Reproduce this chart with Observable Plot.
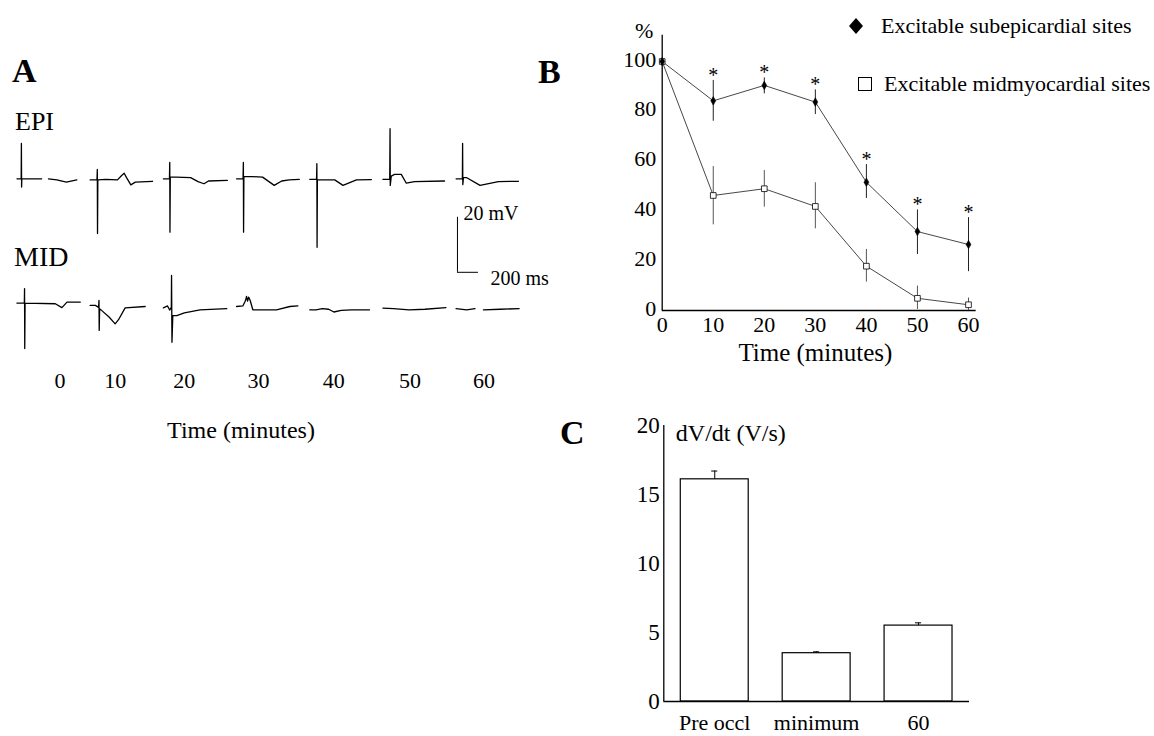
<!DOCTYPE html>
<html>
<head>
<meta charset="utf-8">
<script src="https://cdn.jsdelivr.net/npm/d3@7"></script>
<script src="https://cdn.jsdelivr.net/npm/@observablehq/plot@0.6"></script>
<style>
  body { margin: 0; background: #fff; }
  #fig { position: relative; width: 1154px; height: 736px; overflow: hidden; background: #fff;
         font-family: "Liberation Serif", "DejaVu Serif", serif; color: #000; }
  .lbl { position: absolute; white-space: nowrap; line-height: 1; }
  .plot { position: absolute; }
</style>
</head>
<body>
<div id="fig"></div>
<script>
// ---------------- DATA ----------------
// Panel B: % excitable sites vs time (minutes)
const minutes    = [0, 10, 20, 30, 40, 50, 60];
const epiPct     = [100, 84.2, 90.4, 83.7, 51.5, 31.7, 26.5];
const epiErrHi   = [100, 92.4, 93.4, 88.6, 58.6, 40.4, 37.3];
const epiErrLo   = [100, 76.0, 87.0, 78.7, 45.0, 22.5, 15.6];
const midPct     = [100, 46.2, 48.9, 41.8, 17.8, 4.9, 2.3];
const midErrHi   = [100, 57.8, 56.2, 51.3, 24.5, 9.8, 5.0];
const midErrLo   = [100, 34.4, 41.5, 32.8, 11.4, 0.4, 0];
const significant = [false, true, true, true, true, true, true];
const bYTicks = [0, 20, 40, 60, 80, 100];

// Panel C: dV/dt (V/s)
const dvdtGroups = ["Pre occl", "minimum", "60"];
const dvdtMean   = [16.1, 3.5, 5.5];
const dvdtErr    = [0.6, 0.1, 0.2];
const cYTicks = [0, 5, 10, 15, 20];

// Panel A: electrogram snippets, [ms from snippet start, mV from baseline]
const traceTimes = ["0", "10", "20", "30", "40", "50", "60"];
const epiTraces = [
  [[0,0],[40,0],[42,12.9],[44,-3],[46,0],[235,0],[240,null],[300,0],[380,-0.4],[470,-1.2],[570,-0.4]],
  [[0,-0.4],[65,-0.4],[68,3.4],[70,-19.9],[73,-0.4],[150,-0.2],[260,-0.4],[300,1.2],[324,2.0],[345,0.5],[387,-2.2],[430,-1.2],[594,-0.9]],
  [[0,0],[58,0],[61,6],[63,-19.4],[66,0.6],[120,0.6],[260,0.4],[330,-1.0],[387,-1.8],[430,-0.8],[609,-0.6]],
  [[0,0],[62,0],[65,6],[67,-19.4],[70,0.8],[150,0.8],[248,0.6],[359,-2.4],[430,-0.8],[502,-0.4],[597,-0.2]],
  [[0,-0.2],[65,-0.2],[68,5.5],[70,-24.9],[73,-0.4],[238,-0.4],[317,-2.4],[445,-0.4],[587,-0.3]],
  [[0,-0.2],[65,-0.2],[68,18.2],[70,-2.4],[80,1.0],[111,1.6],[175,1.6],[223,-1.6],[300,-1.0],[587,-0.8]],
  [[0,0],[60,0],[62,12.9],[64,-2.1],[70,0.4],[102,0.4],[228,-2.4],[403,-1.0],[593,-0.9]]
];
const midTraces = [
  [[0,0],[70,0],[72,5.3],[74,-16.5],[77,0],[365,-0.2],[428,-1.6],[476,0.4],[603,0.4]],
  [[0,-0.8],[50,-0.8],[80,-1.5],[84,1.0],[86,-9.9],[90,-2],[111,-2.7],[180,-5],[238,-7.5],[270,-6],[333,-1.7],[524,-1.2]],
  [[0,-1.7],[40,-1.0],[60,-2.5],[76,-1.5],[78,10.1],[82,-14.2],[90,-4.5],[128,-4.5],[200,-3.5],[349,-2.4],[604,-2.0]],
  [[0,-1.2],[60,-1.0],[80,0.5],[90,1.5],[95,2.5],[105,0.8],[115,2.2],[130,1.0],[155,-2.4],[381,-2.4],[508,-1.2],[584,-1.0]],
  [[0,-2.4],[60,-2.4],[120,-2.0],[180,-2.2],[230,-3.2],[300,-2.6],[400,-2.4],[570,-2.4]],
  [[0,-1.8],[100,-2.0],[250,-2.4],[400,-2.2],[600,-1.6]],
  [[0,-2.0],[100,-2.4],[180,-2.0],[200,null],[260,-2.4],[420,-2.2],[600,-2.0]]
];
const scaleBarMv = 20;
const scaleBarMs = 200;

// ---------------- LAYOUT ----------------
const fig = document.getElementById("fig");
const FONT = "'Liberation Serif', 'DejaVu Serif', serif";

function label(text, {x, y, size = 22, weight = "normal", anchor = "start"}) {
  const d = document.createElement("div");
  d.className = "lbl";
  d.textContent = text;
  d.style.fontSize = size + "px";
  d.style.fontWeight = weight;
  d.style.top = (y - 0.8375 * size) + "px";   // y = baseline
  d.style.left = x + "px";
  if (anchor === "middle") d.style.transform = "translateX(-50%)";
  fig.appendChild(d);
}
function place(svg, left, top) {
  svg.classList.add("plot");
  svg.style.left = left + "px";
  svg.style.top = top + "px";
  fig.appendChild(svg);
}

// ---------------- PANEL A ----------------
const A_W = 556, A_H = 400;
const PX_PER_MS = 0.105, PX_PER_MV = 2.75;
const EPI_BASE_PX = 178.3, MID_BASE_PX = 302.7;
const FIRST_MS = 157, SLOT_MS = 697;
const MID_OFFSET = -(MID_BASE_PX - EPI_BASE_PX) / PX_PER_MV;
const labelNudgePx = [19, 1, -3, -2, 0, 3, 4];

const traceRows = [];
[["EPI", epiTraces, 0], ["MID", midTraces, MID_OFFSET]].forEach(([ch, snippets, off]) => {
  snippets.forEach((pts, i) => {
    pts.forEach(([t, v]) => traceRows.push({
      t: FIRST_MS + i * SLOT_MS + t,
      v: v == null ? NaN : v + off,
      key: ch + i
    }));
  });
});
const barX = FIRST_MS + 6 * SLOT_MS + 13;   // scale bar sits under the last snippet
const barTop = -14;
const scaleBar = [{x: barX, x2: barX + scaleBarMs, y1: barTop, y2: barTop - scaleBarMv}];

const plotA = Plot.plot({
  width: A_W, height: A_H,
  marginLeft: 0, marginRight: 0, marginTop: 0, marginBottom: 0,
  x: {domain: [0, A_W / PX_PER_MS], range: [0, A_W], axis: null},
  y: {domain: [-(A_H - EPI_BASE_PX) / PX_PER_MV, EPI_BASE_PX / PX_PER_MV], range: [A_H, 0], axis: null},
  style: {fontFamily: FONT, background: "transparent", overflow: "visible"},
  marks: [
    Plot.line(traceRows, {x: "t", y: "v", z: "key", stroke: "#000", strokeWidth: 1.3}),
    Plot.ruleX(scaleBar, {x: "x", y1: "y1", y2: "y2", stroke: "#000", strokeWidth: 1}),
    Plot.ruleY(scaleBar, {y: "y2", x1: "x", x2: "x2", stroke: "#000", strokeWidth: 1}),
    Plot.text(scaleBar, {x: "x", y: "y1", text: () => scaleBarMv + " mV", textAnchor: "start",
      lineAnchor: "middle", dx: 6, dy: -4, fontSize: 20, fill: "#000"}),
    Plot.text(scaleBar, {x: "x2", y: "y2", text: () => scaleBarMs + " ms", textAnchor: "start",
      lineAnchor: "middle", dx: 12, dy: 6, fontSize: 20, fill: "#000"}),
    Plot.text(traceTimes, {
      x: (d, i) => FIRST_MS + i * SLOT_MS + (24 + labelNudgePx[i]) / PX_PER_MS,
      text: d => d, frameAnchor: "bottom", lineAnchor: "middle", dy: -20, fontSize: 22, fill: "#000"
    })
  ]
});
place(plotA, 0, 0);

label("A", {x: 12, y: 82, size: 34, weight: "bold"});
label("EPI", {x: 15, y: 131, size: 26});
label("MID", {x: 14, y: 266, size: 28});
label("Time (minutes)", {x: 241, y: 438, size: 24, anchor: "middle"});

// ---------------- PANEL B ----------------
const epiRows = minutes.map((m, i) => ({m, v: epiPct[i], hi: epiErrHi[i], lo: epiErrLo[i], sig: significant[i]}));
const midRows = minutes.map((m, i) => ({m, v: midPct[i], hi: midErrHi[i], lo: midErrLo[i]}));

const plotB = Plot.plot({
  width: 420, height: 370,
  marginLeft: 101.7, marginRight: 12, marginTop: 61, marginBottom: 60,
  x: {domain: [0, 60], axis: null},
  y: {domain: [0, 100], axis: null},
  style: {fontFamily: FONT, background: "transparent", overflow: "visible"},
  marks: [
    Plot.ruleX([0], {y1: 0, y2: 110.5, stroke: "#000", strokeWidth: 1.3}),
    Plot.ruleY([0], {x1: 0, x2: 61.5, stroke: "#000", strokeWidth: 1.3}),
    Plot.text(bYTicks, {x: 0, y: d => d, text: d => String(d), textAnchor: "end", lineAnchor: "middle", dx: -6, dy: -2, fontSize: 22, fill: "#000"}),
    Plot.text(minutes, {x: d => d, y: 0, text: d => String(d), lineAnchor: "middle", dy: 14, fontSize: 22, fill: "#000"}),
    Plot.text(["Time (minutes)"], {frameAnchor: "bottom", lineAnchor: "middle", dy: 42, fontSize: 25, fill: "#000"}),
    Plot.ruleX(midRows, {x: "m", y1: "lo", y2: "hi", stroke: "#555", strokeWidth: 1}),
    Plot.ruleX(epiRows, {x: "m", y1: "lo", y2: "hi", stroke: "#222", strokeWidth: 1}),
    Plot.line(midRows, {x: "m", y: "v", stroke: "#333", strokeWidth: 0.9}),
    Plot.line(epiRows, {x: "m", y: "v", stroke: "#333", strokeWidth: 0.9}),
    Plot.dot(midRows, {x: "m", y: "v", symbol: "square", r: 3.2, fill: "#fff", stroke: "#000", strokeWidth: 0.8}),
    Plot.dot(epiRows, {x: "m", y: "v", symbol: "diamond", r: 2.6, fill: "#000", stroke: "#000", strokeWidth: 0.5}),
    Plot.text(epiRows.filter(d => d.sig), {x: "m", y: "hi", text: () => "*", lineAnchor: "middle", dy: -5, fontSize: 20, fill: "#000"})
  ]
});
place(plotB, 560, 0);

label("B", {x: 538, y: 83, size: 34, weight: "bold"});
label("%", {x: 635, y: 38, size: 22});

// legend
const legSvg = document.createElementNS("http://www.w3.org/2000/svg", "svg");
legSvg.setAttribute("width", 40); legSvg.setAttribute("height", 110);
legSvg.innerHTML =
  '<polygon points="9,26 16,18 23,26 16,34" fill="#000"/>' +
  '<rect x="18.5" y="77.5" width="13" height="13" fill="#fff" stroke="#000" stroke-width="1"/>';
legSvg.style.position = "absolute"; legSvg.style.left = "840px"; legSvg.style.top = "0px";
fig.appendChild(legSvg);
label("Excitable subepicardial sites", {x: 881, y: 33, size: 22});
label("Excitable midmyocardial sites", {x: 884, y: 91, size: 22});

// ---------------- PANEL C ----------------
const cRows = dvdtGroups.map((g, i) => ({g, i, v: dvdtMean[i], e: dvdtErr[i]}));
const plotC = Plot.plot({
  width: 420, height: 336,
  marginLeft: 103.3, marginRight: 11, marginTop: 25, marginBottom: 35,
  x: {domain: [0, dvdtGroups.length], axis: null},
  y: {domain: [0, 20], axis: null},
  style: {fontFamily: FONT, background: "transparent", overflow: "visible"},
  marks: [
    Plot.rectY(cRows, {x1: d => d.i + 1/6, x2: d => d.i + 5/6, y1: 0, y2: "v", fill: "#fff", stroke: "#000", strokeWidth: 1.2}),
    Plot.ruleX(cRows, {x: d => d.i + 0.5, y1: "v", y2: d => d.v + d.e, stroke: "#000", strokeWidth: 1}),
    Plot.ruleY(cRows, {y: d => d.v + d.e, x1: d => d.i + 0.47, x2: d => d.i + 0.53, stroke: "#000", strokeWidth: 1}),
    Plot.ruleX([0], {y1: 0, y2: 20, stroke: "#000", strokeWidth: 1.3}),
    Plot.ruleY([0], {x1: 0, x2: dvdtGroups.length, stroke: "#000", strokeWidth: 1.3}),
    Plot.text(cYTicks, {x: 0, y: d => d, text: d => String(d), textAnchor: "end", lineAnchor: "middle", dx: -4, fontSize: 23, fill: "#000"}),
    Plot.text(cRows, {x: d => d.i + 0.5, y: 0, text: "g", lineAnchor: "middle", dy: 21, fontSize: 22, fill: "#000"}),
    Plot.text(["dV/dt (V/s)"], {frameAnchor: "top-left", textAnchor: "start", lineAnchor: "middle", dx: 12, dy: 8, fontSize: 24, fill: "#000"})
  ]
});
place(plotC, 560, 400);

label("C", {x: 560, y: 444, size: 34, weight: "bold"});
</script>
</body>
</html>
